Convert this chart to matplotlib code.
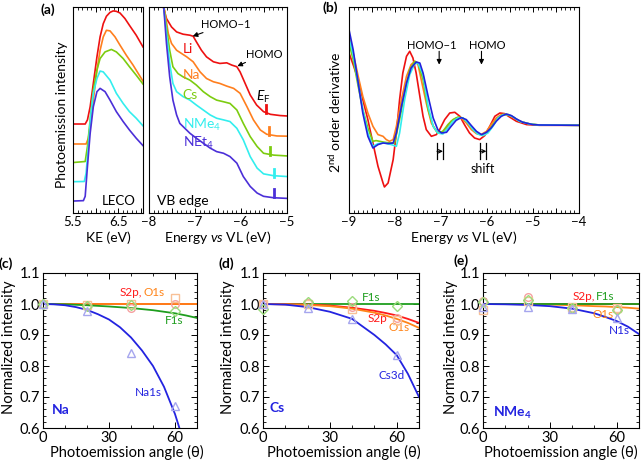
import matplotlib
matplotlib.use("Agg")
import matplotlib.pyplot as plt
from matplotlib.ticker import MultipleLocator

# --- fonts ---
plt.rcParams['font.family'] = ['Lato', 'DejaVu Sans']
plt.rcParams['mathtext.fontset'] = 'custom'
plt.rcParams['mathtext.rm'] = 'Lato'
plt.rcParams['mathtext.it'] = 'Lato:italic'
plt.rcParams['mathtext.bf'] = 'Lato:bold'
plt.rcParams['axes.linewidth'] = 0.8

W, H = 642, 462

# ---------------- data: (a) LECO ----------------
ke_li = [5.5, 5.77, 5.82, 5.88, 5.95, 6.03, 6.10, 6.17, 6.24, 6.32, 6.39, 6.46, 6.54, 6.65, 6.75, 6.90, 7.05]
leco_li = [43.2, 43.2, 45.2, 51.6, 62.9, 75.8, 85.5, 91.9, 95.5, 97.4, 98.1, 97.9, 97.1, 94.4, 91.1, 86.3, 80.6]
ke_na = [5.5, 5.79, 5.84, 5.88, 5.95, 6.03, 6.10, 6.17, 6.24, 6.32, 6.43, 6.54, 6.68, 6.83, 7.05]
leco_na = [33.5, 33.5, 36.3, 41.9, 54.8, 69.4, 79.0, 85.5, 88.7, 88.4, 85.5, 81.5, 76.6, 71.8, 64.0]
ke_cs = [5.5, 5.77, 5.82, 5.88, 5.95, 6.03, 6.10, 6.21, 6.35, 6.46, 6.61, 6.75, 6.90, 7.05]
leco_cs = [24.5, 25.0, 32.3, 45.2, 59.7, 69.4, 75.0, 78.2, 79.4, 78.2, 75.0, 71.0, 66.9, 62.6]
ke_nme4 = [5.5, 5.75, 5.79, 5.84, 5.89, 5.95, 6.03, 6.10, 6.17, 6.32, 6.46, 6.61, 6.75, 6.90, 7.05]
leco_nme4 = [15.2, 15.3, 19.4, 32.3, 46.8, 58.1, 65.3, 68.9, 68.5, 64.5, 58.1, 53.2, 49.2, 46.0, 42.3]
ke_net4 = [5.5, 5.73, 5.77, 5.82, 5.88, 5.95, 6.03, 6.10, 6.21, 6.32, 6.46, 6.61, 6.75, 6.90, 7.05]
leco_net4 = [5.8, 6.0, 8.1, 22.6, 38.7, 51.6, 58.9, 60.5, 58.9, 54.8, 49.2, 44.4, 40.3, 36.3, 32.7]

# ---------------- data: (a) VB edge ----------------
e_vb_li = [-7.80, -7.69, -7.62, -7.51, -7.40, -7.26, -7.11, -7.04, -6.97, -6.86, -6.75, -6.60, -6.46, -6.31,
           -6.20, -6.09, -6.02, -5.91, -5.80, -5.66, -5.51, -5.36, -5.15, -5.0]
vb_li = [115, 100, 94.4, 90.3, 87.9, 86.8, 86.3, 85.8, 83.1, 79.0, 75.8, 73.4, 72.6, 72.9,
         71.8, 71.0, 68.5, 62.9, 57.3, 52.4, 49.2, 47.9, 47.3, 47.1]
e_vb_na = [-7.73, -7.66, -7.58, -7.51, -7.40, -7.29, -7.18, -7.04, -6.89, -6.75, -6.60, -6.46, -6.31, -6.16,
           -6.02, -5.87, -5.73, -5.58, -5.44, -5.22, -5.0]
vb_na = [103.2, 98.4, 87.1, 82.3, 79.0, 77.4, 75.8, 73.4, 68.5, 65.3, 63.7, 62.9, 61.6, 60.5,
         58.1, 51.6, 45.2, 40.3, 38.2, 37.4, 37.3]
e_vb_cs = [-7.73, -7.68, -7.62, -7.55, -7.48, -7.37, -7.26, -7.11, -6.97, -6.82, -6.67, -6.53, -6.38, -6.24,
           -6.09, -5.95, -5.80, -5.65, -5.51, -5.29, -5.0]
vb_cs = [103.2, 100, 90.3, 79.0, 71.0, 67.7, 66.1, 64.5, 62.1, 58.9, 56.5, 54.8, 54.0, 53.2,
         50.0, 43.5, 37.1, 32.3, 29.0, 28.1, 27.7]
e_vb_nme4 = [-7.73, -7.68, -7.62, -7.55, -7.48, -7.40, -7.26, -7.11, -6.97, -6.82, -6.67, -6.53, -6.38, -6.24,
             -6.09, -5.95, -5.80, -5.65, -5.51, -5.29, -5.0]
vb_nme4 = [103.2, 100, 87.1, 72.6, 62.9, 58.9, 56.5, 54.8, 52.4, 50.0, 47.6, 46.0, 45.2, 44.4,
           41.1, 35.5, 27.4, 21.8, 19.0, 18.1, 17.7]
e_vb_net4 = [-7.73, -7.68, -7.62, -7.55, -7.48, -7.40, -7.33, -7.22, -7.11, -6.97, -6.82, -6.67, -6.53, -6.38,
             -6.24, -6.09, -5.95, -5.80, -5.65, -5.51, -5.29, -5.0]
vb_net4 = [103.2, 100, 82.3, 66.1, 54.8, 47.6, 43.5, 41.1, 38.7, 36.3, 33.9, 31.5, 29.8, 29.0,
           27.4, 24.2, 17.7, 12.9, 9.7, 8.1, 7.4, 7.1]

# Fermi level marks (energy, intensity at the curve)
ef_energy = [-5.45, -5.39, -5.38, -5.29, -5.29]
ef_level = [48.4, 37.9, 28.2, 17.7, 7.7]

# ---------------- data: (b) 2nd derivative ----------------
e_d2_li = [-9.0, -8.91, -8.80, -8.70, -8.59, -8.48, -8.37, -8.26, -8.23, -8.15, -8.04, -7.97, -7.90, -7.83,
           -7.75, -7.68, -7.61, -7.54, -7.46, -7.39, -7.32, -7.21, -7.10, -7.03, -6.92, -6.81, -6.70, -6.59,
           -6.49, -6.38, -6.27, -6.16, -6.05, -5.94, -5.83, -5.72, -5.62, -5.51, -5.36, -5.14, -4.86, -4.0]
d2_li = [72.3, 60.7, 45.7, 25.7, 5.7, -17.7, -41.0, -57.7, -61.7, -57.7, -34.3, -7.7, 25.7, 52.3,
         69.0, 74.0, 67.3, 52.3, 29.0, 9.0, -4.3, -11.0, -9.3, -4.3, 5.7, 12.3, 13.0, 9.0,
         0.7, -7.7, -12.7, -14.3, -10.3, -1.0, 9.0, 12.3, 11.7, 8.3, 4.0, 0.7, 0.0, 0.0]
e_d2_na = [-9.0, -8.91, -8.80, -8.70, -8.59, -8.48, -8.37, -8.26, -8.19, -8.12, -8.04, -7.97, -7.86, -7.75,
           -7.65, -7.57, -7.50, -7.43, -7.32, -7.21, -7.10, -6.99, -6.88, -6.78, -6.67, -6.56, -6.45, -6.34,
           -6.23, -6.12, -6.01, -5.91, -5.80, -5.69, -5.58, -5.47, -5.29, -5.07, -4.86, -4.0]
d2_na = [89.0, 72.3, 49.0, 29.0, 12.3, -1.0, -9.3, -11.0, -14.3, -16.0, -14.3, -1.0, 25.7, 49.0,
         60.7, 64.0, 60.7, 45.7, 22.3, 2.3, -6.0, -7.7, -2.7, 4.0, 7.3, 7.3, 2.3, -4.3,
         -8.3, -9.0, -6.0, 0.7, 7.3, 10.7, 10.7, 9.0, 4.0, 1.3, 0.3, 0.0]
e_d2_cs = [-9.0, -8.91, -8.80, -8.70, -8.59, -8.48, -8.41, -8.26, -8.12, -8.01, -7.90, -7.79, -7.68, -7.57,
           -7.50, -7.39, -7.28, -7.17, -7.07, -6.96, -6.85, -6.74, -6.63, -6.52, -6.41, -6.30, -6.20, -6.09,
           -5.98, -5.87, -5.76, -5.65, -5.54, -5.43, -5.29, -5.07, -4.86, -4.0]
d2_cs = [82.3, 65.7, 39.0, 15.7, -2.7, -16.0, -15.3, -16.7, -17.7, -17.7, 5.7, 32.3, 55.7, 64.0,
         62.3, 45.7, 15.7, -1.0, -7.7, -6.0, 0.7, 5.7, 8.3, 7.3, 2.3, -4.3, -8.7, -10.0,
         -7.0, 0.7, 7.3, 10.7, 10.7, 8.3, 4.0, 1.3, 0.3, 0.0]
e_d2_nme4 = [-9.0, -8.91, -8.80, -8.70, -8.59, -8.48, -8.37, -8.23, -8.08, -7.97, -7.90, -7.79, -7.68, -7.57,
             -7.50, -7.39, -7.28, -7.17, -7.07, -6.96, -6.85, -6.74, -6.63, -6.52, -6.41, -6.30, -6.20, -6.09,
             -5.98, -5.87, -5.76, -5.65, -5.54, -5.43, -5.29, -5.07, -4.86, -4.0]
d2_nme4 = [87.3, 70.7, 42.3, 15.7, -7.7, -21.0, -18.3, -17.7, -19.3, -21.0, -7.7, 25.7, 50.7, 61.7,
           62.3, 50.7, 19.0, -1.0, -7.7, -8.7, -2.7, 4.0, 7.3, 7.3, 2.3, -4.3, -8.7, -10.3,
           -7.7, -1.0, 7.3, 10.7, 10.7, 8.3, 4.0, 1.3, 0.3, 0.0]
e_d2_net4 = [-9.0, -8.91, -8.80, -8.70, -8.59, -8.48, -8.37, -8.26, -8.15, -8.04, -7.97, -7.86, -7.75, -7.65,
             -7.54, -7.46, -7.39, -7.28, -7.17, -7.07, -6.99, -6.88, -6.78, -6.67, -6.56, -6.45, -6.34, -6.23,
             -6.12, -6.01, -5.91, -5.80, -5.69, -5.58, -5.47, -5.36, -5.22, -5.0, -4.86, -4.0]
d2_net4 = [95.7, 75.7, 42.3, 12.3, -11.0, -22.7, -19.3, -17.7, -18.3, -17.7, -7.7, 19.0, 42.3, 57.3,
           63.3, 62.3, 52.3, 29.0, 7.3, -4.3, -7.7, -7.0, -1.0, 5.0, 7.7, 5.7, -0.3, -6.0,
           -9.3, -7.0, -2.7, 4.0, 9.0, 11.3, 9.7, 6.3, 3.0, 0.7, 0.3, 0.0]

# ---------------- data: (c)-(e) angle dependence ----------------
angles = [0, 20, 40, 60]

na_s2p = [1.0, 0.992, 0.987, 1.0]
na_o1s = [1.0, 0.997, 1.0, 1.02]
na_f1s = [1.0, 0.995, 0.998, 0.976]
na_na1s = [1.0, 0.976, 0.842, 0.672]
fit_theta_na1s = [0, 5, 10, 15, 20, 25, 30, 35, 40, 45, 50, 55, 60, 62]
fit_na1s = [1.0, 0.999, 0.996, 0.99, 0.981, 0.967, 0.95, 0.925, 0.892, 0.85, 0.80, 0.733, 0.645, 0.60]
fit_theta = [0, 10, 20, 30, 40, 50, 55, 60, 65, 70]
fit_na_f1s = [1.0, 0.999, 0.996, 0.992, 0.987, 0.98, 0.975, 0.97, 0.963, 0.955]
fit_flat = [1.0] * 10

cs_s2p = [1.0, 1.003, 0.99, 0.955]
cs_o1s = [1.0, 1.0, 0.984, 0.95]
cs_f1s = [0.984, 1.006, 1.011, 0.992]
cs_cs3d = [1.0, 0.987, 0.953, 0.834]
fit_cs_cs3d = [1.0, 0.998, 0.99, 0.975, 0.952, 0.90, 0.87, 0.835, 0.775, 0.70]
fit_cs_s2p = [1.0, 0.999, 0.998, 0.995, 0.988, 0.978, 0.971, 0.963, 0.952, 0.939]
fit_cs_o1s = [1.0, 0.999, 0.997, 0.993, 0.985, 0.972, 0.963, 0.952, 0.939, 0.923]

nme4_s2p = [1.009, 1.023, 0.984, 0.985]
nme4_o1s = [0.982, 1.01, 0.99, 0.988]
nme4_f1s = [1.005, 1.014, 0.987, 0.982]
nme4_n1s = [0.99, 0.99, 0.985, 0.955]
fit_nme4_o1s = [1.0, 1.0, 0.999, 0.998, 0.996, 0.993, 0.992, 0.99, 0.988, 0.985]
fit_nme4_n1s = [1.0, 0.999, 0.997, 0.993, 0.985, 0.97, 0.958, 0.945, 0.927, 0.903]

# colours
C_LI, C_NA, C_CS, C_NME4, C_NET4 = '#ee1111', '#ff7f1e', '#7ccc10', '#33eeee', '#4b2fd8'
C_B_BLUE = '#2222dd'
L_RED, L_ORANGE, L_GREEN, L_BLUE = '#ff1a1a', '#ff8418', '#1f9e1f', '#2323e0'
M_RED, M_ORANGE, M_GREEN, M_BLUE = '#f5a0a0', '#f8c096', '#9bdb7c', '#a6a6ee'

MINUS = '\u2212'

fig = plt.figure(figsize=(W / 100, H / 100), dpi=100)


def px_axes(x0, y0, x1, y1):
    return fig.add_axes([x0 / W, 1 - y1 / H, (x1 - x0) / W, (y1 - y0) / H])


def ftext(x, y, s, **kw):
    kw.setdefault('ha', 'center')
    kw.setdefault('va', 'center')
    fig.text(x / W, 1 - y / H, s, **kw)


def top_ticks(ax, major, labels):
    ax.set_xticks(major, labels=labels)
    ax.xaxis.set_minor_locator(MultipleLocator(0.1))
    ax.tick_params(axis='x', which='both', direction='in', top=True, bottom=True, labelsize=9.5, pad=2)
    ax.tick_params(axis='x', which='major', length=3.5, width=0.7)
    ax.tick_params(axis='x', which='minor', length=2, width=0.6)
    ax.set_yticks([])


# ---------------- (a) LECO ----------------
axL = px_axes(73, 7, 143, 213)
axL.plot(ke_li, leco_li, color=C_LI, lw=1.2)
axL.plot(ke_na, leco_na, color=C_NA, lw=1.2)
axL.plot(ke_cs, leco_cs, color=C_CS, lw=1.2)
axL.plot(ke_nme4, leco_nme4, color=C_NME4, lw=1.2)
axL.plot(ke_net4, leco_net4, color=C_NET4, lw=1.2)
axL.set_xlim(5.5, 7.05)
axL.set_ylim(0, 100)
top_ticks(axL, [5.5, 6.0, 6.5, 7.0], ['5.5', '', '6.5', ''])
axL.text(0.89, 0.03, 'LECO', transform=axL.transAxes, ha='right', va='bottom', fontsize=9.5)

# ---------------- (a) VB edge ----------------
axV = px_axes(149, 7, 287, 213)
axV.plot(e_vb_li, vb_li, color=C_LI, lw=1.2)
axV.plot(e_vb_na, vb_na, color=C_NA, lw=1.2)
axV.plot(e_vb_cs, vb_cs, color=C_CS, lw=1.2)
axV.plot(e_vb_nme4, vb_nme4, color=C_NME4, lw=1.2)
axV.plot(e_vb_net4, vb_net4, color=C_NET4, lw=1.2)
for e, lvl, c in zip(ef_energy, ef_level, [C_LI, C_NA, C_CS, C_NME4, C_NET4]):
    axV.plot([e, e], [lvl, lvl + 3.8], color=c, lw=2)
axV.set_xlim(-8, -5)
axV.set_ylim(0, 100)
top_ticks(axV, [-8, -7.5, -7, -6.5, -6, -5.5, -5],
          [MINUS + '8', '', MINUS + '7', '', MINUS + '6', '', MINUS + '5'])
axV.text(0.058, 0.03, 'VB edge', transform=axV.transAxes, ha='left', va='bottom', fontsize=10)

salt_names = ['Li', 'Na', 'Cs', 'NMe$_4$', 'NEt$_4$']
salt_y = [79.8, 66.9, 57.3, 42.7, 33.9]
for name, yv, c in zip(salt_names, salt_y, [C_LI, C_NA, C_CS, C_NME4, C_NET4]):
    axV.text(-7.27, yv, name, color=c, fontsize=10, ha='left', va='center')
arrow_kw = dict(arrowstyle='-|>', color='black', lw=0.8, mutation_scale=7, shrinkA=0, shrinkB=0)
axV.annotate('HOMO' + MINUS + '1', xy=(-7.05, 85.8), xytext=(-6.86, 91.6), fontsize=8,
             ha='left', va='center', arrowprops=arrow_kw)
axV.annotate('HOMO', xy=(-6.08, 71.3), xytext=(-5.9, 77.1), fontsize=8,
             ha='left', va='center', arrowprops=arrow_kw)
axV.text(-5.52, 56.3, r'$\it{E}_{\rm F}$', fontsize=10, ha='center', va='center')

# ---------------- (b) second derivative ----------------
axB = px_axes(349, 7, 579, 213)
axB.plot(e_d2_li, d2_li, color=C_LI, lw=1.2)
axB.plot(e_d2_na, d2_na, color=C_NA, lw=1.2)
axB.plot(e_d2_cs, d2_cs, color=C_CS, lw=1.2)
axB.plot(e_d2_nme4, d2_nme4, color=C_NME4, lw=1.2)
axB.plot(e_d2_net4, d2_net4, color=C_B_BLUE, lw=1.2)
axB.set_xlim(-9, -4)
axB.set_ylim(-87.7, 118.3)
ticks_b = [-9, -8.5, -8, -7.5, -7, -6.5, -6, -5.5, -5, -4.5, -4]
top_ticks(axB, ticks_b, [MINUS + str(int(-t)) if t == int(t) else '' for t in ticks_b])
axB.text(-7.21, 79.7, 'HOMO' + MINUS + '1', fontsize=8, ha='center', va='center')
axB.text(-6.0, 79.7, 'HOMO', fontsize=8, ha='center', va='center')
axB.annotate('', xy=(-7.04, 60.7), xytext=(-7.04, 74), arrowprops=arrow_kw)
axB.annotate('', xy=(-6.12, 60.7), xytext=(-6.12, 74), arrowprops=arrow_kw)
for e0, e1 in [(-7.087, -6.957), (-6.159, -6.014)]:
    axB.plot([e0, e0], [-17.7, -33.7], color='black', lw=0.9)
    axB.plot([e1, e1], [-17.7, -33.7], color='black', lw=0.9)
    axB.annotate('', xy=(e1, -26), xytext=(e0, -26),
                 arrowprops=dict(arrowstyle='->', color='black', lw=0.8, mutation_scale=6,
                                 shrinkA=0, shrinkB=0))
axB.text(-6.09, -43.7, 'shift', fontsize=9, ha='center', va='center')

# top row labels
ftext(48, 10, '(a)', fontsize=10, fontweight='bold')
ftext(330, 8, '(b)', fontsize=10, fontweight='bold')
ftext(62, 115, 'Photoemission intensity', fontsize=10, rotation=90)
ftext(108, 238, 'KE (eV)', fontsize=10)
ftext(218, 238, r'Energy $\it{vs}$ VL (eV)', fontsize=10)
ftext(464, 238, r'Energy $\it{vs}$ VL (eV)', fontsize=10)
ftext(335, 112, r'2$^{\rm nd}$ order derivative', fontsize=10, rotation=90)


# ---------------- (c)-(e) ----------------
def angle_axes(x0, x1):
    ax = px_axes(x0, 273, x1, 428)
    ax.set_xlim(0, 70)
    ax.set_ylim(0.6, 1.1)
    ax.set_xticks([0, 30, 60])
    ax.set_yticks([0.6, 0.7, 0.8, 0.9, 1.0, 1.1])
    ax.set_yticklabels(['0.6', '0.7', '0.8', '0.9', '1.0', '1.1'])
    ax.xaxis.set_minor_locator(MultipleLocator(10))
    ax.yaxis.set_minor_locator(MultipleLocator(0.02))
    ax.tick_params(which='both', direction='in', top=True, right=True, labelsize=10.5, pad=2)
    ax.tick_params(which='major', length=4, width=0.7)
    ax.tick_params(which='minor', length=2, width=0.6)
    return ax


def markers(ax, s2p, o1s, f1s, core):
    kw = dict(ls='none', mfc='none', mew=1.0, clip_on=False, zorder=4)
    ax.plot(angles, s2p, marker='o', mec=M_RED, ms=5.5, **kw)
    ax.plot(angles, o1s, marker='s', mec=M_ORANGE, ms=5.5, **kw)
    ax.plot(angles, f1s, marker='D', mec=M_GREEN, ms=5, **kw)
    ax.plot(angles, core, marker='^', mec=M_BLUE, ms=5.5, **kw)


# (c) Na
axC = angle_axes(43, 197)
axC.plot(fit_theta, fit_flat, color=L_RED, lw=1.3)
axC.plot(fit_theta, fit_flat, color=L_ORANGE, lw=1.3)
axC.plot(fit_theta, fit_na_f1s, color=L_GREEN, lw=1.3)
axC.plot(fit_theta_na1s, fit_na1s, color=L_BLUE, lw=1.3)
markers(axC, na_s2p, na_o1s, na_f1s, na_na1s)
axC.text(35, 1.036, 'S2p,', color=L_RED, fontsize=8.5, ha='left', va='center')
axC.text(45.5, 1.036, 'O1s', color=L_ORANGE, fontsize=8.5, ha='left', va='center')
axC.text(55.2, 0.946, 'F1s', color=L_GREEN, fontsize=8.5, ha='left', va='center')
axC.text(41.6, 0.714, 'Na1s', color=L_BLUE, fontsize=8.5, ha='left', va='center')
axC.text(4.2, 0.659, 'Na', color=L_BLUE, fontsize=10, fontweight='bold', ha='left', va='center')

# (d) Cs
axD = angle_axes(263, 419)
axD.plot(fit_theta, fit_flat, color=L_GREEN, lw=1.3)
axD.plot(fit_theta, fit_cs_s2p, color=L_RED, lw=1.3)
axD.plot(fit_theta, fit_cs_o1s, color=L_ORANGE, lw=1.3)
axD.plot(fit_theta, fit_cs_cs3d, color=L_BLUE, lw=1.3)
markers(axD, cs_s2p, cs_o1s, cs_f1s, cs_cs3d)
axD.text(44.5, 1.02, 'F1s', color=L_GREEN, fontsize=8.5, ha='left', va='center')
axD.text(47.1, 0.953, 'S2p', color=L_RED, fontsize=8.5, ha='left', va='center')
axD.text(56.1, 0.924, 'O1s', color=L_ORANGE, fontsize=8.5, ha='left', va='center')
axD.text(51.7, 0.769, 'Cs3d', color=L_BLUE, fontsize=8.5, ha='left', va='center')
axD.text(3.0, 0.666, 'Cs', color=L_BLUE, fontsize=10, fontweight='bold', ha='left', va='center')

# (e) NMe4
axE = angle_axes(483, 639)
axE.plot(fit_theta, fit_flat, color=L_RED, lw=1.3)
axE.plot(fit_theta, fit_nme4_o1s, color=L_ORANGE, lw=1.3)
axE.plot(fit_theta, fit_flat, color=L_GREEN, lw=1.3)
axE.plot(fit_theta, fit_nme4_n1s, color=L_BLUE, lw=1.3)
markers(axE, nme4_s2p, nme4_o1s, nme4_f1s, nme4_n1s)
axE.text(40, 1.024, 'S2p,', color=L_RED, fontsize=8.5, ha='left', va='center')
axE.text(50.7, 1.024, 'F1s', color=L_GREEN, fontsize=8.5, ha='left', va='center')
axE.text(49, 0.965, 'O1s', color=L_ORANGE, fontsize=8.5, ha='left', va='center')
axE.text(56.6, 0.914, 'N1s', color=L_BLUE, fontsize=8.5, ha='left', va='center')
axE.text(4.3, 0.65, r'NMe$_\mathbf{4}$', color=L_BLUE, fontsize=10, fontweight='bold',
         ha='left', va='center')

for xc, yc, lab in [(6, 264, '(c)'), (226, 264, '(d)'), (461, 261, '(e)')]:
    ftext(xc, yc, lab, fontsize=10, fontweight='bold')
for xc in [9, 228, 451]:
    ftext(xc, 347, 'Normalized intensity', fontsize=10.5, rotation=90)
for xc in [127, 344, 561]:
    ftext(xc, 452, 'Photoemission angle (θ)', fontsize=10.5)

fig.savefig('out.png', dpi=100)
